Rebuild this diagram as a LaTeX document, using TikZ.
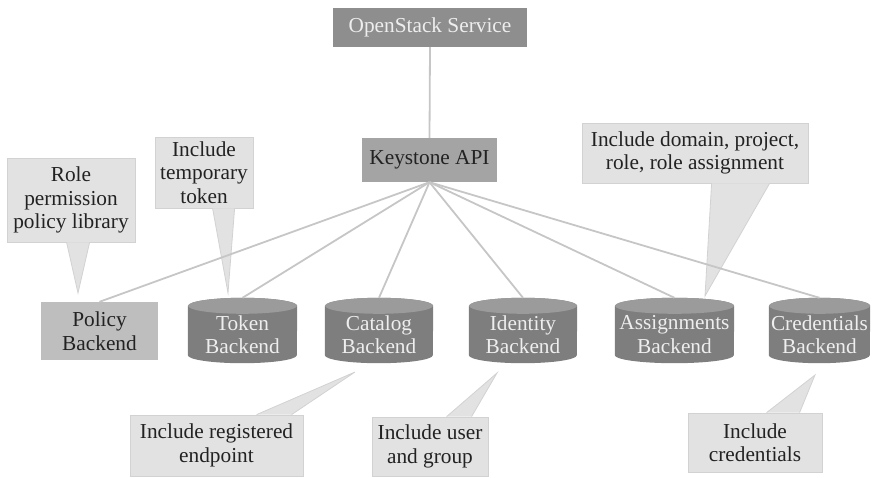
\documentclass[tikz,border=0pt]{standalone}
\usepackage{fontspec}
\setmainfont{Liberation Serif}
\usetikzlibrary{calc,backgrounds}
\definecolor{linegray}{HTML}{C6C6C6}
\definecolor{callgray}{HTML}{E2E2E2}
\definecolor{calledge}{HTML}{D2D2D2}
\definecolor{darkbox}{HTML}{8E8E8E}
\definecolor{midbox}{HTML}{A4A4A4}
\definecolor{policybox}{HTML}{BEBEBE}
\definecolor{cylbody}{HTML}{7E7E7E}
\definecolor{cyltop}{HTML}{9B9B9B}
\definecolor{lighttext}{HTML}{EEEEEE}
\definecolor{darktext}{HTML}{222222}
\begin{document}
\begin{tikzpicture}[x=1pt,y=-1pt,
  every node/.style={font=\fontsize{21.3}{23.5}\selectfont, align=center, inner sep=0pt},
  topbox/.style={fill=darkbox, text=lighttext, minimum width=194pt, minimum height=39pt},
  apibox/.style={fill=midbox, text=darktext, minimum width=135pt, minimum height=44pt},
  polbox/.style={fill=policybox, text=darktext, minimum width=117pt, minimum height=58pt},
  cylnode/.style={text=lighttext, minimum height=57pt},
  callbox/.style={fill=callgray, draw=calledge, line width=0.8pt, text=darktext},
  conn/.style={draw=linegray, line width=1.8pt},
  ptrfill/.style={fill=callgray},
  ptredge/.style={draw=calledge, line width=0.8pt}
]
\useasboundingbox (0,0) rectangle (873,477);

% main boxes
\node[topbox] (os) at (430,27.5) {OpenStack Service};
\node[apibox] (ks) at (429.5,160) {Keystone API};
\node[polbox] (pol) at (99.5,331) {Policy\\Backend};

% cylinders (node = body, from top-ellipse centre to bottom)
\node[cylnode, minimum width=109pt] (tok) at (242.5,334.5) {Token\\Backend};
\node[cylnode, minimum width=108pt] (cat) at (379,334.5) {Catalog\\Backend};
\node[cylnode, minimum width=108pt] (ide) at (523,334.5) {Identity\\Backend};
\node[cylnode, minimum width=119pt] (ass) at (674.5,334.5) {Assignments\\Backend};
\node[cylnode, minimum width=101pt] (cre) at (819.5,334.5) {Credentials\\Backend};

\begin{pgfonlayer}{background}
\foreach \n/\a in {tok/54.5,cat/54,ide/54,ass/59.5,cre/50.5}{
  \fill[cylbody] (\n.north west) -- ($(\n.south west)+(0,-8)$)
     arc[start angle=180,end angle=360,x radius=\a pt,y radius=8pt]
     -- (\n.north east)
     arc[start angle=0,end angle=180,x radius=\a pt,y radius=8pt] -- cycle;
  \fill[cyltop] (\n.north) ellipse[x radius=\a pt,y radius=8pt];
}
\end{pgfonlayer}

\foreach \n in {tok,cat,ide,ass,cre}{
  \coordinate (\n T) at ($(\n.north)+(0,-8)$);
}

% callouts
\node[callbox, minimum width=128pt, minimum height=84pt] (c1) at (71,200) {Role\\permission\\policy library};
\node[callbox, minimum width=98pt, minimum height=71pt] (c2) at (204,172.5) {Include\\temporary\\token};
\node[callbox, minimum width=226pt, minimum height=60pt] (c3) at (695,153) {Include domain, project,\\role, role assignment};
\node[callbox, minimum width=173pt, minimum height=61pt] (c4) at (216.5,445.5) {Include registered\\endpoint};
\node[callbox, minimum width=116pt, minimum height=59pt] (c5) at (430,446.5) {Include user\\and group};
\node[callbox, minimum width=134pt, minimum height=59pt] (c6) at (755,442.5) {Include\\credentials};

% pointer tips
\coordinate (p1) at (78,293);
\coordinate (p2) at (228,293);
\coordinate (p3) at (705,296);
\coordinate (p4) at (355,372);
\coordinate (p5) at (497,373);
\coordinate (p6) at (815,375);

% pointers
\foreach \c/\p/\da/\db/\side in {c1/p1/60/83/south, c2/p2/58/80/south, c3/p3/130/188/south,
                                 c4/p4/127/162/north, c5/p5/75/100/north, c6/p6/79/112/north}{
  \fill[ptrfill] ($(\c.\side\space west)+(\da,0)$) -- (\p) -- ($(\c.\side\space west)+(\db,0)$) -- cycle;
  \draw[ptredge] ($(\c.\side\space west)+(\da,0)$) -- (\p) -- ($(\c.\side\space west)+(\db,0)$);
}

% connectors
\draw[conn] (os.south) -- (ks.north);
\draw[conn] (ks.south) -- (pol.north);
\foreach \n in {tok,cat,ide,ass,cre}{
  \draw[conn] (ks.south) -- (\n T);
}
\end{tikzpicture}
\end{document}
